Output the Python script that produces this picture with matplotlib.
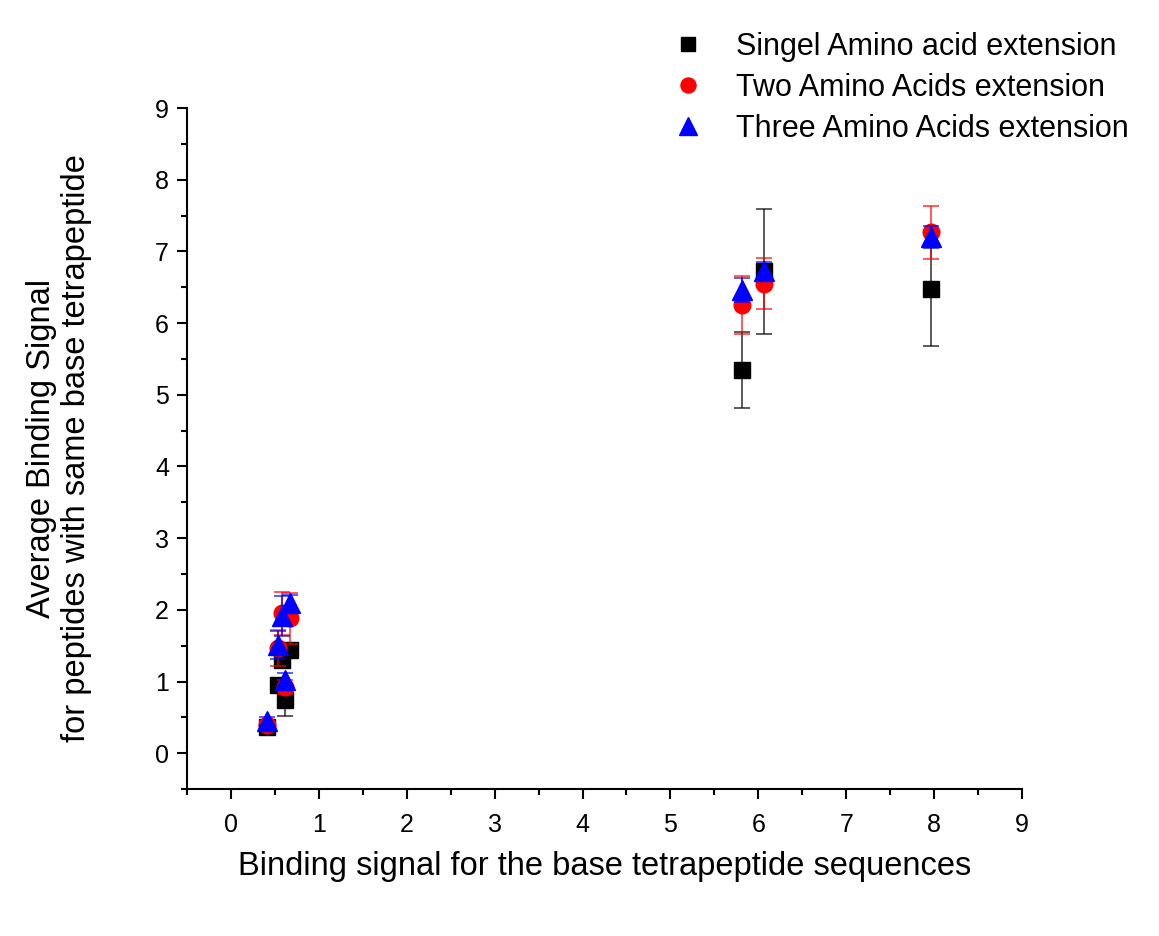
import matplotlib.pyplot as plt
from matplotlib.ticker import MultipleLocator

plt.rcParams['font.family'] = ['Liberation Sans', 'DejaVu Sans']

# single amino acid extension (black squares)
single_x = [0.41, 0.54, 0.58, 0.62, 0.67, 5.82, 6.06, 7.97]
single_y = [0.37, 0.95, 1.30, 0.74, 1.44, 5.34, 6.72, 6.47]
single_err = [0.05, 0.10, 0.10, 0.22, 0.10, 0.53, 0.87, 0.79]

# two amino acids extension (red circles)
two_x = [0.41, 0.54, 0.58, 0.62, 0.67, 5.82, 6.06, 7.97]
two_y = [0.40, 1.47, 1.95, 0.92, 1.88, 6.25, 6.55, 7.27]
two_err = [0.05, 0.25, 0.30, 0.10, 0.35, 0.40, 0.36, 0.37]

# three amino acids extension (blue triangles)
three_x = [0.41, 0.54, 0.58, 0.62, 0.67, 5.82, 6.06, 7.97]
three_y = [0.45, 1.51, 1.91, 1.02, 2.09, 6.46, 6.72, 7.20]
three_err = [0.05, 0.20, 0.28, 0.10, 0.12, 0.17, 0.13, 0.15]

fig = plt.figure(figsize=(11.59, 9.36), dpi=100)
ax = fig.add_axes([0.1613, 0.157, 0.7205, 0.7276])

series = [
    (single_x, single_y, single_err, 's', 'black', 'Singel Amino acid extension', 11),
    (two_x, two_y, two_err, 'o', 'red', 'Two Amino Acids extension', 12),
    (three_x, three_y, three_err, '^', 'blue', 'Three Amino Acids extension', 14),
]

handles = []
for x, y, err, m, c, lab, ms in series:
    ax.errorbar(x, y, yerr=err, fmt='none', ecolor=c, elinewidth=1.2, capsize=6, capthick=1.2, alpha=0.75)
    h, = ax.plot(x, y, m, color=c, markersize=ms, linestyle='none', label=lab)
    handles.append(h)

ax.set_xlim(-0.5, 9)
ax.set_ylim(-0.5, 9)
ax.xaxis.set_major_locator(MultipleLocator(1))
ax.xaxis.set_minor_locator(MultipleLocator(0.5))
ax.yaxis.set_major_locator(MultipleLocator(1))
ax.yaxis.set_minor_locator(MultipleLocator(0.5))
ax.tick_params(which='major', direction='out', length=7, width=1.5, labelsize=18, pad=6)
ax.tick_params(axis='x', which='major', pad=10)
ax.tick_params(which='minor', direction='out', length=4, width=1.5)
for s in ['top', 'right']:
    ax.spines[s].set_visible(False)
for s in ['left', 'bottom']:
    ax.spines[s].set_linewidth(1.5)

ax.set_xlabel('Binding signal for the base tetrapeptide sequences', fontsize=23.5, labelpad=10)
ax.set_ylabel('Average Binding Signal\nfor peptides with same base tetrapeptide', fontsize=23.5, labelpad=45)

fig.legend(handles=handles, loc='upper right', bbox_to_anchor=(0.998, 0.995), frameon=False,
           fontsize=22, markerscale=0.9, handletextpad=0.6, labelspacing=0.35)

fig.savefig('out.png', dpi=100)
